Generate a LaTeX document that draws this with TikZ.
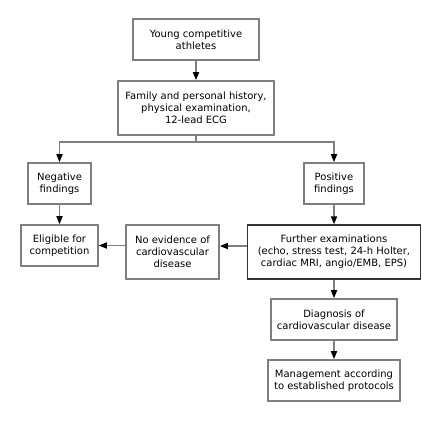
\documentclass[tikz,border=0pt]{standalone}
\usepackage{fontspec}
\setmainfont{DejaVu Sans}
\usetikzlibrary{arrows.meta}
\definecolor{boxgray}{HTML}{7F7F7F}
\tikzset{
  box/.style={draw=boxgray, line width=1.6pt, fill=white, align=center, inner sep=1pt,
    font=\fontsize{10pt}{12pt}\selectfont},
  arr/.style={draw=boxgray, line width=1.6pt, -{Triangle[length=8pt,width=6pt,black]}},
  ln/.style={draw=boxgray, line width=1.6pt}
}
\begin{document}
\begin{tikzpicture}[x=1pt,y=-1pt]
\useasboundingbox (0,0) rectangle (442,421);
\node[box, minimum width=126pt, minimum height=41pt] (young) at (196,39.5) {Young competitive\\athletes};
\node[box, minimum width=156pt, minimum height=54pt] (hist) at (196,108) {Family and personal history,\\physical examination,\\12-lead ECG};
\node[box, minimum width=63pt, minimum height=41pt] (neg) at (59.5,183.5) {Negative\\findings};
\node[box, minimum width=60pt, minimum height=41pt] (pos) at (334,183.5) {Positive\\findings};
\node[box, minimum width=77pt, minimum height=41pt] (elig) at (59.5,245.5) {Eligible for\\competition};
\node[box, minimum width=93pt, minimum height=54pt] (noev) at (172.5,252) {No evidence of\\cardiovascular\\disease};
\node[box, draw=black!80, line width=1.2pt, minimum width=173pt, minimum height=54pt] (further) at (334,252) {Further examinations\\(echo, stress test, 24-h Holter,\\cardiac MRI, angio/EMB, EPS)};
\node[box, minimum width=126pt, minimum height=41pt] (diag) at (334,319.5) {Diagnosis of\\cardiovascular disease};
\node[box, minimum width=132pt, minimum height=41pt] (mgmt) at (334,380.5) {Management according\\to established protocols};
\coordinate (split) at (196,142);
\draw[arr] (young) -- (hist);
\draw[ln] (hist.south) -- (split);
\draw[arr] (split) -| (neg.north);
\draw[arr] (split) -| (pos.north);
\draw[arr] (neg) -- (elig);
\draw[arr] (pos) -- (further);
\draw[arr] ([yshift=6pt]further.west) -- ([yshift=6pt]noev.east);
\draw[arr] (noev.west |- elig.east) -- (elig.east);
\draw[arr] (further.south -| diag.north) -- (diag.north);
\draw[arr] (diag) -- (mgmt);
\end{tikzpicture}
\end{document}
